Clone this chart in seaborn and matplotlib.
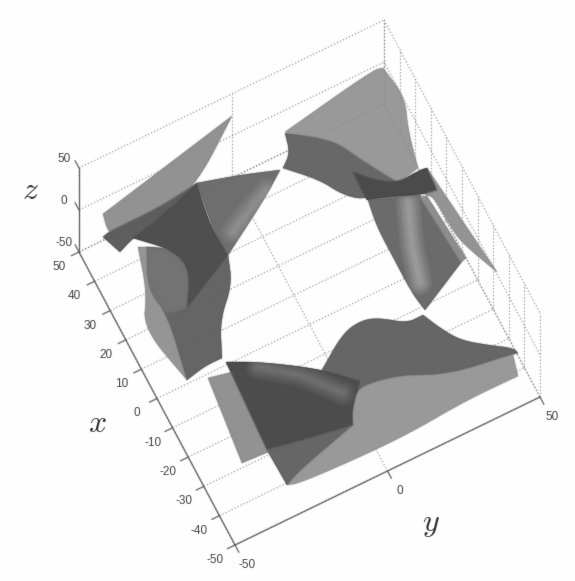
import numpy as np
import pandas as pd
import matplotlib
matplotlib.use("Agg")
import matplotlib.pyplot as plt
from matplotlib.patches import Polygon
import seaborn as sns

# axis values
x_ticks = [50, 40, 30, 20, 10, 0, -10, -20, -30, -40, -50]
y_ticks = [-50, 0, 50]
z_ticks = [-50, 0, 50]

# surface pieces (image pixels), back to front
flap_top_left = [(103, 214), (232, 116), (198, 182), (165, 212), (120, 240), (108, 232)]
tail_left = [(138, 247), (147, 247), (148, 290), (167, 313), (187, 380), (143, 328), (147, 293)]
body_left = [(147, 247), (148, 290), (167, 313), (187, 380), (205, 366), (222, 358), (220, 320), (232, 285), (228, 255), (187, 308), (190, 270), (173, 250)]
inner_left = [(147, 247), (165, 248), (180, 256), (189, 270), (190, 290), (187, 308), (167, 313), (148, 290)]
band_left = [(103, 237), (110, 231), (160, 207), (197, 183), (160, 217), (133, 238), (120, 252)]
cone_left = [(197, 183), (240, 175), (280, 170), (265, 198), (228, 255), (213, 230)]
shadow_left = [(197, 183), (205, 210), (213, 230), (228, 255), (187, 308), (190, 270), (173, 250), (133, 238), (160, 217)]

flap_bottom = [(208, 378), (240, 370), (285, 445), (242, 463)]
strip_bottom = [(287, 485), (300, 483), (360, 457), (410, 433), (467, 400), (518, 376), (513, 355), (503, 357), (463, 370), (433, 375), (400, 375), (363, 385), (353, 395), (352, 410), (353, 425), (300, 470)]
wing_bottom = [(322, 370), (343, 333), (362, 320), (380, 318), (407, 323), (423, 315), (440, 328), (460, 340), (487, 345), (513, 348), (518, 353), (503, 357), (463, 370), (433, 375), (400, 375), (363, 385), (355, 395)]
skirt_bottom = [(267, 450), (353, 425), (300, 470), (287, 485)]
cone_bottom = [(226, 362), (260, 362), (320, 369), (360, 381), (352, 410), (353, 425), (267, 450)]

flap_top_right = [(285, 132), (373, 70), (383, 68), (405, 97), (408, 130), (418, 168), (400, 182), (387, 177), (353, 155), (333, 142)]
wing_right = [(285, 133), (333, 140), (357, 157), (390, 178), (400, 183), (367, 200), (343, 195), (320, 180), (283, 168), (290, 153)]
flap_right = [(427, 168), (497, 272), (462, 243), (450, 226), (434, 197), (425, 195)]
body_right = [(368, 200), (420, 195), (463, 260), (425, 310), (412, 293), (393, 257), (377, 227)]
flange_right = [(420, 197), (427, 196), (466, 258), (461, 262)]
band_right = [(353, 172), (375, 180), (397, 183), (420, 170), (427, 168), (437, 190), (420, 195), (390, 197), (367, 200), (360, 187)]

# shiny streaks on the rounded parts
shine_left = [(267, 190), (250, 210), (233, 232)]
shine_bottom = [(258, 367), (300, 375), (343, 393)]
shine_right = [(408, 203), (412, 245), (420, 283)]

# axes geometry: screen position of the corner x=-50, y=-50, z=-50 and px per data unit
corner = np.array([235.0, 545.0])
per_x = np.array([-1.56, -2.93])
per_y = np.array([3.05, -1.48])
per_z = np.array([0.0, -0.84])


def project(x, y, z):
    return corner + (x + 50) * per_x + (y + 50) * per_y + (z + 50) * per_z


def segs_frame(segs):
    rows = []
    for i, (a, b) in enumerate(segs):
        for p in (a, b):
            sx, sy = project(*p)
            rows.append({"sx": sx, "sy": sy, "seg": i})
    return pd.DataFrame(rows)


def round_outline(outline, sharp_deg=55, passes=3):
    # corner cutting, but real tips of the surface stay sharp
    pts = np.array(outline, float)
    n = len(pts)
    keep = []
    for i in range(n):
        a = pts[i] - pts[i - 1]
        b = pts[(i + 1) % n] - pts[i]
        ang = np.degrees(np.arccos(np.clip(a @ b / (np.linalg.norm(a) * np.linalg.norm(b)), -1, 1)))
        keep.append(ang > sharp_deg)
    if not any(keep):
        keep[0] = True
    start = keep.index(True)
    pts = np.roll(pts, -start, axis=0)
    keep = keep[start:] + keep[:start]
    out = []
    idx = [i for i, k in enumerate(keep) if k] + [n]
    for a, b in zip(idx[:-1], idx[1:]):
        run = np.vstack([pts[a:], pts[0:1]]) if b == n else pts[a:b + 1]
        for _ in range(passes):
            q = 0.75 * run[:-1] + 0.25 * run[1:]
            r = 0.25 * run[:-1] + 0.75 * run[1:]
            mid = np.empty((2 * len(q), 2))
            mid[0::2] = q
            mid[1::2] = r
            run = np.vstack([run[0], mid, run[-1]])
        out.append(run[:-1])
    return np.vstack(out)


def soft(sigma):
    # small gaussian blur, the reference is a soft scan
    rad = int(3 * sigma) + 1
    kern = np.exp(-0.5 * (np.arange(-rad, rad + 1) / sigma) ** 2)
    kern /= kern.sum()

    def smear(a):
        a = np.apply_along_axis(lambda v: np.convolve(v, kern, mode="same"), 0, a)
        return np.apply_along_axis(lambda v: np.convolve(v, kern, mode="same"), 1, a)

    def filt(img, dpi):
        pad = rad + 1
        big = np.pad(img, ((pad, pad), (pad, pad), (0, 0)))
        alpha = big[:, :, 3].copy()
        blurred = smear(alpha)
        for ch in range(3):
            big[:, :, ch] = smear(big[:, :, ch] * alpha) / np.maximum(blurred, 1e-4)
        big[:, :, 3] = blurred
        return np.clip(big, 0, 1), -pad, -pad
    return filt


grid_segs = []
for v in x_ticks:
    grid_segs.append(((v, -50, -50), (v, 50, -50)))  # floor
    grid_segs.append(((v, 50, -50), (v, 50, 50)))    # back wall
for v in y_ticks:
    grid_segs.append(((-50, v, -50), (50, v, -50)))
    grid_segs.append(((50, v, -50), (50, v, 50)))
for v in z_ticks:
    grid_segs.append(((50, -50, v), (50, 50, v)))
    grid_segs.append(((50, 50, v), (-50, 50, v)))

axis_segs = [((50, -50, -50), (-50, -50, -50)),
             ((-50, -50, -50), (-50, 50, -50)),
             ((50, -50, -50), (50, -50, 50))]
tick_len = 2.5
for v in x_ticks:
    axis_segs.append(((v, -50, -50), (v, -50 - tick_len, -50)))
for v in y_ticks:
    axis_segs.append(((-50, v, -50), (-50 - tick_len, v, -50)))
for v in z_ticks:
    axis_segs.append(((50, -50, v), (50 + tick_len, -50, v)))

sns.set_theme(style="white")
plt.rcParams["mathtext.fontset"] = "cm"
plt.rcParams["font.family"] = ["Liberation Sans", "DejaVu Sans"]

fig = plt.figure(figsize=(5.75, 5.81), dpi=100, facecolor="#fefefe")
ax = fig.add_axes([0, 0, 1, 1])
ax.set_facecolor("#fefefe")

grid_df = segs_frame(grid_segs)
sns.lineplot(data=grid_df, x="sx", y="sy", units="seg", estimator=None,
             sort=False, color="#a4a4a4", lw=0.8, linestyle=(0, (1.2, 1.8)), ax=ax, legend=False, zorder=1)
# grid shows very faintly through the surfaces
sns.lineplot(data=grid_df, x="sx", y="sy", units="seg", estimator=None,
             sort=False, color="#555555", lw=0.8, alpha=0.1, linestyle=(0, (1.2, 1.8)), ax=ax, legend=False, zorder=4)
sns.lineplot(data=segs_frame(axis_segs), x="sx", y="sy", units="seg", estimator=None,
             sort=False, color="#606060", lw=0.9, ax=ax, legend=False, zorder=5)
for ln in ax.lines:
    ln.set_agg_filter(soft(0.5))

pieces = [
    (flap_top_left, "#929292"), (tail_left, "#959595"), (body_left, "#656565"),
    (inner_left, "#737373"), (cone_left, "#6e6e6e"), (band_left, "#5e5e5e"),
    (shadow_left, "#4f4f4f"),
    (flap_bottom, "#929292"), (strip_bottom, "#999999"), (wing_bottom, "#666666"),
    (skirt_bottom, "#666666"), (cone_bottom, "#4c4c4c"),
    (flap_top_right, "#999999"), (flap_right, "#949494"), (wing_right, "#686868"),
    (body_right, "#6b6b6b"), (flange_right, "#8e8e8e"), (band_right, "#4b4b4b"),
]
patches = {}
for k, (outline, col) in enumerate(pieces):
    shape = round_outline(outline)
    # flat pass below so the soft pass does not leave pale seams between pieces
    ax.add_patch(Polygon(shape, closed=True, fc=col, ec="none", zorder=2 + k * 0.01))
    p = Polygon(shape, closed=True, fc=col, ec=col, lw=0.3, zorder=3 + k * 0.01)
    p.set_agg_filter(soft(0.7))
    ax.add_patch(p)
    patches[id(outline)] = p

for streak, host, tone in [(shine_left, cone_left, "#a8a8a8"),
                           (shine_bottom, cone_bottom, "#8c8c8c"),
                           (shine_right, body_right, "#c0c0c0")]:
    sx, sy = zip(*streak)
    for w in [18, 15, 12, 10, 8, 6, 4, 2.5]:
        ln, = ax.plot(sx, sy, color=tone, lw=w, alpha=0.10, solid_capstyle="round", zorder=3.5)
        ln.set_clip_path(patches[id(host)])

texts = []
for v in x_ticks:
    sx, sy = project(v, -50, -50) + np.array([-20, 15])
    texts.append(ax.text(sx, sy, str(v), fontsize=8.5, color="#444444", ha="center", va="center"))
for v in y_ticks:
    sx, sy = project(-50, v, -50) + np.array([12, 20])
    texts.append(ax.text(sx, sy, str(v), fontsize=8.5, color="#444444", ha="center", va="center"))
for v in z_ticks:
    sx, sy = project(50, -50, v) + np.array([-15, -9])
    texts.append(ax.text(sx, sy, str(v), fontsize=8.5, color="#444444", ha="center", va="center"))

texts.append(ax.text(30, 191, "$z$", fontsize=23, color="#333333", ha="center", va="center"))
texts.append(ax.text(97, 424, "$x$", fontsize=23, color="#333333", ha="center", va="center"))
texts.append(ax.text(431, 524, "$y$", fontsize=23, color="#333333", ha="center", va="center"))
for t in texts:
    t.set_agg_filter(soft(0.45))

ax.set_xlim(0, 575)
ax.set_ylim(581, 0)
ax.set_xlabel("")
ax.set_ylabel("")
ax.axis("off")

fig.savefig("out.png", dpi=100, facecolor=fig.get_facecolor())
